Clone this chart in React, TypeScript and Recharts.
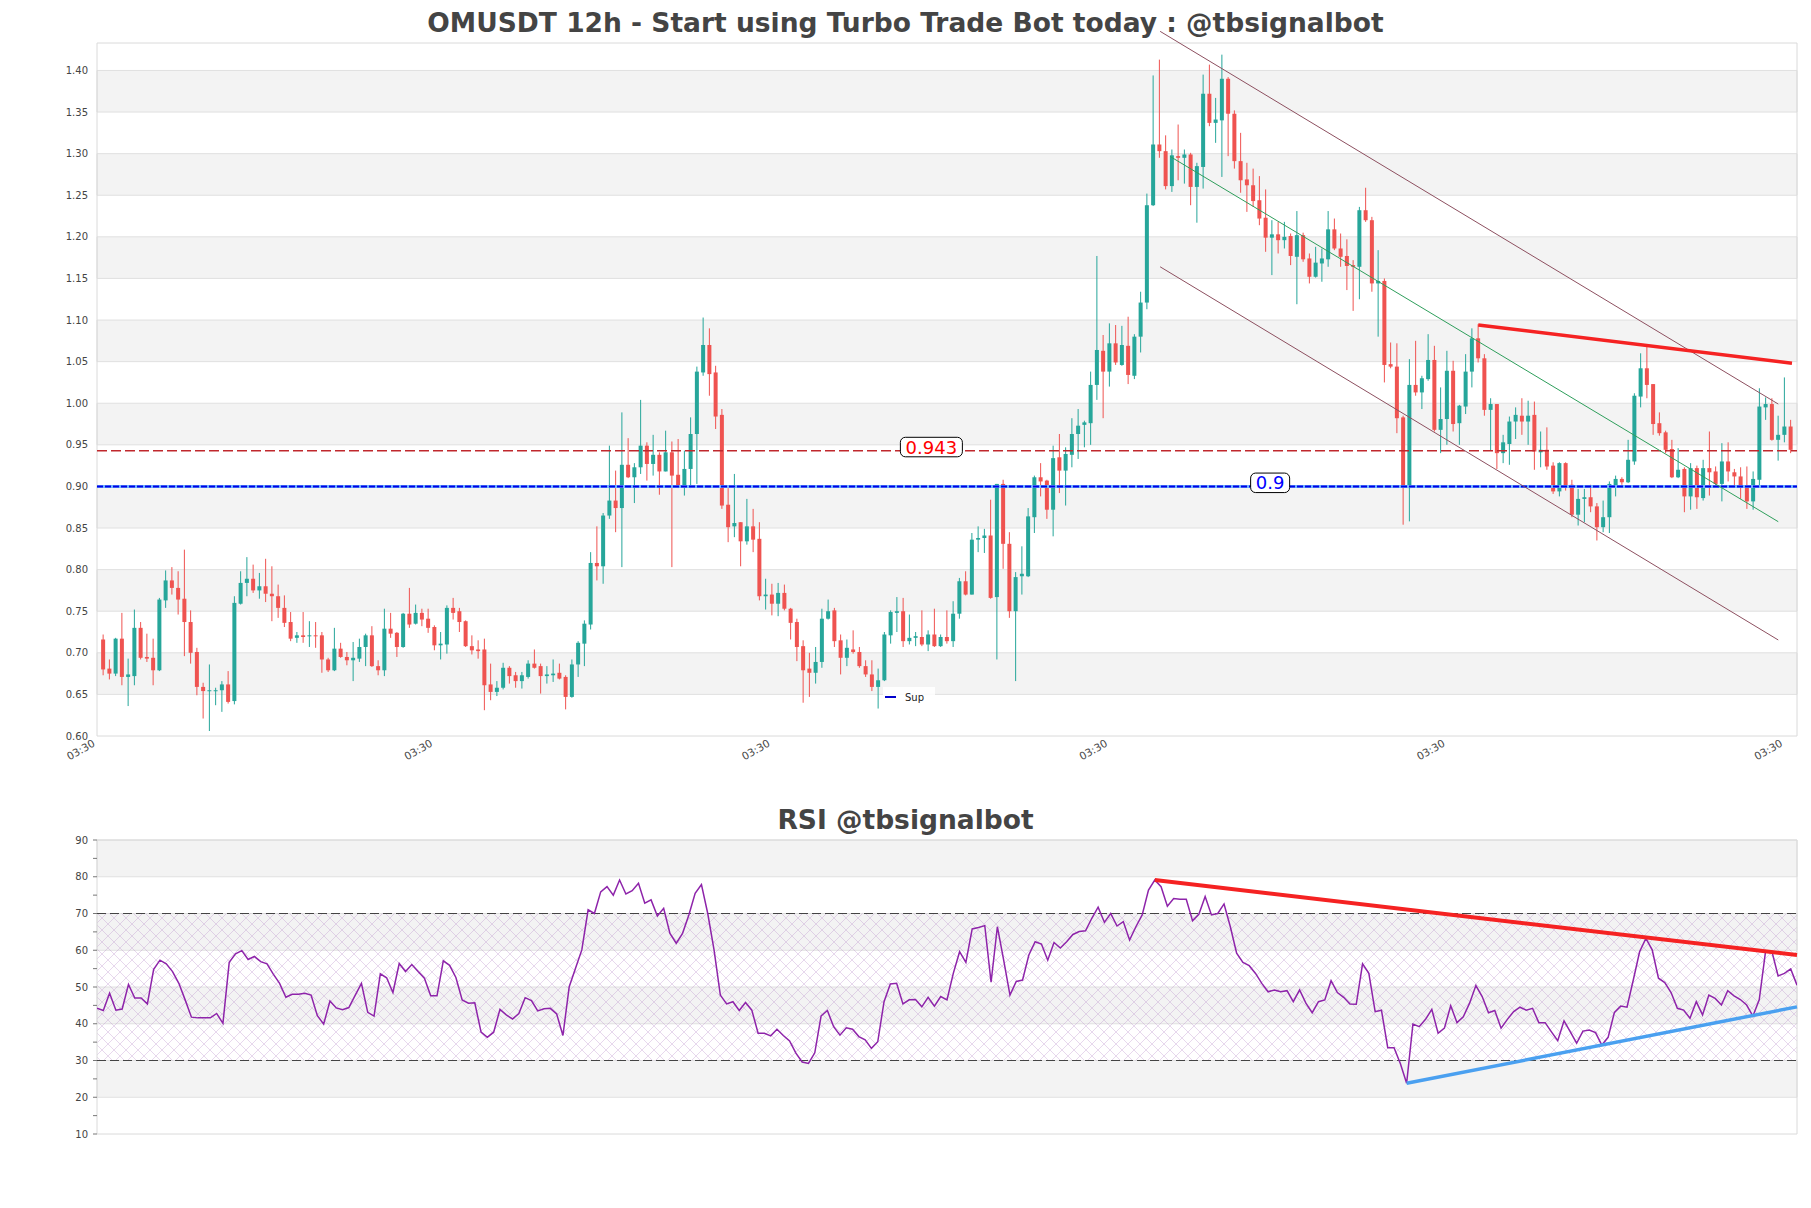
import React from 'react';
import {
  ComposedChart,
  Bar,
  Line,
  XAxis,
  YAxis,
  ReferenceArea,
  ReferenceLine,
  ReferenceDot,
} from 'recharts';

// ---------------- DATA ----------------
const opens = [
  0.716, 0.681, 0.675, 0.717, 0.671, 0.672, 0.730, 0.695, 0.694, 0.679,
  0.763, 0.787, 0.778, 0.765, 0.737, 0.701, 0.659, 0.654, 0.654, 0.655,
  0.662, 0.642, 0.759, 0.784, 0.789, 0.775, 0.780, 0.771, 0.768, 0.754,
  0.737, 0.718, 0.721, 0.720, 0.721, 0.721, 0.692, 0.679, 0.705, 0.695,
  0.691, 0.693, 0.707, 0.721, 0.684, 0.679, 0.729, 0.724, 0.707, 0.747,
  0.735, 0.748, 0.741, 0.731, 0.709, 0.710, 0.754, 0.750, 0.738, 0.708,
  0.704, 0.704, 0.662, 0.653, 0.658, 0.682, 0.673, 0.666, 0.671, 0.687,
  0.684, 0.672, 0.673, 0.676, 0.671, 0.647, 0.686, 0.711, 0.734, 0.808,
  0.804, 0.865, 0.883, 0.874, 0.926, 0.911, 0.923, 0.949, 0.927, 0.938,
  0.918, 0.941, 0.914, 0.900, 0.921, 0.963, 1.037, 1.070, 1.037, 0.986,
  0.878, 0.852, 0.857, 0.834, 0.852, 0.837, 0.768, 0.770, 0.759, 0.772,
  0.753, 0.737, 0.708, 0.681, 0.676, 0.689, 0.741, 0.751, 0.715, 0.694,
  0.704, 0.701, 0.684, 0.674, 0.659, 0.667, 0.721, 0.748, 0.750, 0.714,
  0.718, 0.719, 0.710, 0.722, 0.708, 0.719, 0.714, 0.747, 0.786, 0.770,
  0.836, 0.838, 0.841, 0.767, 0.903, 0.831, 0.750, 0.792, 0.792, 0.863,
  0.911, 0.907, 0.872, 0.935, 0.919, 0.938, 0.963, 0.974, 0.976, 1.022,
  1.063, 1.038, 1.072, 1.046, 1.069, 1.033, 1.080, 1.121, 1.238, 1.311,
  1.303, 1.261, 1.297, 1.295, 1.299, 1.260, 1.284, 1.372, 1.337, 1.340,
  1.390, 1.348, 1.291, 1.269, 1.262, 1.244, 1.223, 1.199, 1.203, 1.196,
  1.201, 1.176, 1.202, 1.174, 1.152, 1.168, 1.173, 1.209, 1.186, 1.177,
  1.166, 1.164, 1.232, 1.220, 1.144, 1.147, 1.047, 1.044, 0.983, 0.898,
  1.022, 1.013, 1.029, 1.052, 0.968, 0.981, 1.039, 0.976, 0.996, 1.038,
  1.078, 1.054, 0.992, 0.999, 0.940, 0.951, 0.978, 0.985, 0.978, 0.986,
  0.941, 0.944, 0.925, 0.894, 0.928, 0.902, 0.866, 0.885, 0.887, 0.876,
  0.851, 0.863, 0.901, 0.909, 0.905, 0.930, 1.008, 1.042, 1.023, 0.976,
  0.965, 0.945, 0.911, 0.921, 0.888, 0.922, 0.886, 0.922, 0.918, 0.903,
  0.930, 0.917, 0.912, 0.900, 0.882, 0.908, 0.995, 0.999, 0.956, 0.962,
  0.972,
];
const highs = [
  0.722, 0.692, 0.718, 0.748, 0.693, 0.752, 0.737, 0.723, 0.717, 0.766,
  0.799, 0.803, 0.798, 0.824, 0.751, 0.706, 0.664, 0.686, 0.658, 0.666,
  0.678, 0.768, 0.798, 0.815, 0.806, 0.796, 0.813, 0.804, 0.782, 0.769,
  0.749, 0.725, 0.749, 0.738, 0.737, 0.725, 0.694, 0.730, 0.712, 0.701,
  0.713, 0.717, 0.723, 0.732, 0.691, 0.753, 0.748, 0.725, 0.748, 0.778,
  0.758, 0.753, 0.753, 0.733, 0.725, 0.757, 0.766, 0.754, 0.739, 0.721,
  0.715, 0.717, 0.687, 0.666, 0.688, 0.684, 0.677, 0.677, 0.691, 0.704,
  0.687, 0.684, 0.692, 0.687, 0.673, 0.692, 0.714, 0.739, 0.821, 0.852,
  0.868, 0.949, 0.919, 0.989, 0.958, 0.928, 1.004, 0.953, 0.962, 0.941,
  0.967, 0.954, 0.957, 0.943, 0.983, 1.044, 1.103, 1.090, 1.045, 0.993,
  0.898, 0.915, 0.857, 0.885, 0.873, 0.857, 0.789, 0.783, 0.784, 0.782,
  0.754, 0.741, 0.715, 0.700, 0.707, 0.753, 0.764, 0.754, 0.722, 0.716,
  0.727, 0.707, 0.691, 0.691, 0.681, 0.725, 0.751, 0.767, 0.766, 0.746,
  0.725, 0.751, 0.727, 0.753, 0.722, 0.751, 0.762, 0.790, 0.798, 0.844,
  0.852, 0.849, 0.884, 0.903, 0.908, 0.845, 0.797, 0.828, 0.874, 0.913,
  0.928, 0.908, 0.949, 0.963, 0.947, 0.982, 0.993, 0.979, 1.038, 1.177,
  1.082, 1.096, 1.094, 1.093, 1.104, 1.083, 1.134, 1.252, 1.394, 1.413,
  1.322, 1.305, 1.335, 1.305, 1.301, 1.289, 1.395, 1.407, 1.367, 1.419,
  1.392, 1.352, 1.325, 1.289, 1.282, 1.273, 1.257, 1.220, 1.218, 1.218,
  1.204, 1.231, 1.205, 1.180, 1.188, 1.186, 1.231, 1.222, 1.204, 1.197,
  1.172, 1.236, 1.259, 1.224, 1.184, 1.150, 1.073, 1.072, 0.985, 1.053,
  1.075, 1.033, 1.083, 1.069, 1.019, 1.063, 1.051, 0.998, 1.059, 1.090,
  1.095, 1.059, 1.006, 0.999, 0.962, 0.984, 0.995, 1.006, 1.003, 1.002,
  0.966, 0.971, 0.929, 0.929, 0.929, 0.908, 0.897, 0.897, 0.902, 0.880,
  0.883, 0.906, 0.913, 0.911, 0.956, 1.012, 1.060, 1.069, 1.023, 0.989,
  0.967, 0.956, 0.946, 0.923, 0.928, 0.925, 0.932, 0.966, 0.924, 0.952,
  0.953, 0.921, 0.923, 0.924, 0.918, 1.018, 1.007, 1.006, 0.985, 1.031,
  0.980,
];
const lows = [
  0.673, 0.668, 0.672, 0.661, 0.636, 0.661, 0.692, 0.689, 0.661, 0.678,
  0.754, 0.770, 0.746, 0.696, 0.687, 0.649, 0.621, 0.606, 0.637, 0.629,
  0.639, 0.638, 0.758, 0.768, 0.772, 0.765, 0.761, 0.738, 0.742, 0.731,
  0.714, 0.712, 0.712, 0.707, 0.706, 0.676, 0.677, 0.678, 0.694, 0.685,
  0.666, 0.689, 0.684, 0.683, 0.673, 0.672, 0.718, 0.695, 0.706, 0.730,
  0.734, 0.732, 0.724, 0.703, 0.692, 0.699, 0.740, 0.725, 0.707, 0.698,
  0.693, 0.631, 0.643, 0.648, 0.656, 0.663, 0.658, 0.657, 0.669, 0.681,
  0.651, 0.663, 0.665, 0.668, 0.632, 0.646, 0.671, 0.684, 0.728, 0.787,
  0.783, 0.861, 0.845, 0.803, 0.910, 0.880, 0.915, 0.907, 0.913, 0.890,
  0.918, 0.803, 0.898, 0.889, 0.898, 0.903, 1.033, 1.009, 0.969, 0.873,
  0.833, 0.839, 0.804, 0.830, 0.821, 0.763, 0.752, 0.745, 0.744, 0.751,
  0.716, 0.690, 0.640, 0.647, 0.663, 0.682, 0.740, 0.707, 0.674, 0.684,
  0.699, 0.682, 0.671, 0.654, 0.633, 0.666, 0.711, 0.725, 0.707, 0.710,
  0.708, 0.708, 0.702, 0.707, 0.707, 0.711, 0.707, 0.741, 0.769, 0.770,
  0.821, 0.820, 0.765, 0.692, 0.801, 0.742, 0.666, 0.770, 0.791, 0.844,
  0.888, 0.861, 0.840, 0.892, 0.877, 0.923, 0.933, 0.947, 0.950, 1.004,
  0.982, 1.020, 1.046, 1.045, 1.023, 1.029, 1.061, 1.113, 1.237, 1.295,
  1.257, 1.254, 1.268, 1.264, 1.238, 1.217, 1.258, 1.333, 1.313, 1.272,
  1.297, 1.282, 1.253, 1.230, 1.236, 1.214, 1.182, 1.154, 1.180, 1.186,
  1.166, 1.119, 1.170, 1.144, 1.151, 1.146, 1.164, 1.184, 1.164, 1.136,
  1.111, 1.125, 1.218, 1.134, 1.080, 1.025, 1.042, 0.964, 0.854, 0.858,
  1.009, 0.993, 1.027, 0.966, 0.940, 0.950, 0.966, 0.950, 0.987, 1.019,
  1.049, 0.985, 0.943, 0.921, 0.928, 0.926, 0.957, 0.962, 0.950, 0.920,
  0.923, 0.920, 0.891, 0.888, 0.895, 0.863, 0.853, 0.857, 0.869, 0.835,
  0.845, 0.844, 0.888, 0.902, 0.904, 0.926, 0.995, 1.006, 0.962, 0.961,
  0.940, 0.910, 0.910, 0.869, 0.872, 0.873, 0.883, 0.889, 0.899, 0.882,
  0.906, 0.901, 0.885, 0.873, 0.872, 0.899, 0.980, 0.955, 0.931, 0.953,
  0.940,
];
const closes = [
  0.680, 0.675, 0.717, 0.671, 0.674, 0.730, 0.694, 0.693, 0.679, 0.764,
  0.787, 0.778, 0.764, 0.737, 0.700, 0.659, 0.654, 0.655, 0.655, 0.662,
  0.641, 0.760, 0.784, 0.789, 0.775, 0.780, 0.771, 0.768, 0.754, 0.736,
  0.717, 0.721, 0.719, 0.721, 0.720, 0.692, 0.679, 0.705, 0.695, 0.691,
  0.694, 0.707, 0.721, 0.684, 0.679, 0.729, 0.723, 0.707, 0.747, 0.734,
  0.748, 0.740, 0.730, 0.709, 0.711, 0.754, 0.748, 0.737, 0.708, 0.703,
  0.702, 0.661, 0.653, 0.658, 0.682, 0.672, 0.666, 0.673, 0.687, 0.682,
  0.672, 0.674, 0.675, 0.669, 0.647, 0.686, 0.712, 0.735, 0.808, 0.804,
  0.865, 0.883, 0.874, 0.926, 0.911, 0.923, 0.949, 0.927, 0.938, 0.918,
  0.941, 0.913, 0.900, 0.921, 0.963, 1.038, 1.070, 1.035, 0.984, 0.877,
  0.851, 0.856, 0.834, 0.852, 0.836, 0.768, 0.770, 0.759, 0.772, 0.753,
  0.736, 0.707, 0.679, 0.676, 0.689, 0.741, 0.750, 0.714, 0.694, 0.706,
  0.701, 0.684, 0.674, 0.659, 0.667, 0.722, 0.749, 0.750, 0.714, 0.718,
  0.720, 0.710, 0.722, 0.708, 0.719, 0.714, 0.747, 0.786, 0.770, 0.836,
  0.838, 0.841, 0.766, 0.903, 0.831, 0.750, 0.791, 0.795, 0.864, 0.911,
  0.906, 0.872, 0.934, 0.919, 0.939, 0.963, 0.973, 0.977, 1.022, 1.064,
  1.038, 1.072, 1.049, 1.070, 1.034, 1.080, 1.121, 1.238, 1.311, 1.303,
  1.261, 1.298, 1.295, 1.299, 1.260, 1.285, 1.372, 1.337, 1.341, 1.390,
  1.348, 1.291, 1.268, 1.262, 1.243, 1.222, 1.199, 1.203, 1.196, 1.200,
  1.177, 1.202, 1.173, 1.152, 1.169, 1.174, 1.209, 1.186, 1.176, 1.165,
  1.164, 1.232, 1.220, 1.144, 1.147, 1.046, 1.044, 0.982, 0.900, 1.022,
  1.013, 1.030, 1.052, 0.968, 0.981, 1.039, 0.975, 0.997, 1.038, 1.078,
  1.054, 0.992, 0.999, 0.940, 0.953, 0.978, 0.986, 0.978, 0.985, 0.942,
  0.944, 0.924, 0.894, 0.928, 0.901, 0.866, 0.885, 0.887, 0.876, 0.851,
  0.863, 0.903, 0.909, 0.905, 0.932, 1.009, 1.042, 1.022, 0.975, 0.964,
  0.944, 0.911, 0.920, 0.888, 0.922, 0.887, 0.922, 0.917, 0.903, 0.930,
  0.918, 0.912, 0.900, 0.882, 0.909, 0.996, 0.999, 0.956, 0.962, 0.972,
  0.944,
];

const rsiValues = [
  44.2, 43.6, 48.3, 43.7, 44.0, 50.7, 47.0, 47.0, 45.4, 54.8,
  57.3, 56.3, 54.2, 51.0, 46.5, 41.8, 41.6, 41.6, 41.6, 42.8,
  40.1, 56.7, 59.0, 59.9, 57.5, 58.3, 56.9, 56.3, 53.5, 51.0,
  47.2, 48.0, 48.0, 48.3, 47.8, 42.2, 39.9, 46.2, 44.3, 43.8,
  44.4, 47.7, 51.0, 43.1, 42.1, 53.6, 52.5, 48.5, 56.4, 54.2,
  56.1, 54.2, 52.4, 47.6, 47.6, 57.1, 55.9, 52.6, 46.5, 45.6,
  45.7, 37.7, 36.3, 37.7, 43.9, 42.4, 41.3, 42.8, 47.1, 46.3,
  43.5, 44.1, 44.2, 42.7, 36.8, 50.1, 55.1, 60.1, 71.0, 70.0,
  75.9, 77.3, 75.0, 79.1, 75.3, 76.2, 78.2, 72.8, 73.7, 69.3,
  71.4, 64.6, 61.9, 64.6, 69.6, 75.5, 77.9, 70.0, 60.1, 47.8,
  45.4, 46.0, 43.6, 45.8, 43.7, 37.4, 37.4, 36.7, 38.5, 36.8,
  35.3, 32.0, 29.6, 29.2, 32.1, 42.1, 43.6, 39.2, 36.9, 38.9,
  38.5, 36.5, 35.6, 33.3, 35.1, 46.0, 50.8, 51.0, 45.4, 46.5,
  46.6, 44.6, 47.2, 44.8, 47.4, 46.5, 53.7, 59.6, 56.7, 65.8,
  66.2, 66.7, 51.3, 66.4, 57.3, 47.8, 51.5, 51.9, 58.7, 62.3,
  61.7, 57.3, 62.1, 60.6, 62.3, 64.3, 65.1, 65.3, 68.7, 71.7,
  67.6, 70.0, 66.6, 67.8, 62.8, 66.4, 69.6, 76.4, 79.1, 77.3,
  72.0, 74.1, 73.9, 73.9, 68.0, 69.8, 74.6, 69.6, 70.0, 72.6,
  66.4, 59.2, 56.7, 55.8, 53.7, 51.0, 48.7, 49.2, 48.7, 49.0,
  46.0, 49.2, 45.6, 43.0, 46.0, 46.5, 51.7, 48.5, 47.2, 45.4,
  45.3, 56.3, 53.7, 43.3, 43.7, 33.5, 33.5, 29.2, 23.8, 39.9,
  39.2, 41.2, 43.9, 37.4, 38.8, 44.9, 40.3, 41.9, 45.6, 50.4,
  47.4, 43.0, 43.6, 38.8, 41.2, 43.3, 44.5, 43.7, 44.2, 40.3,
  40.3, 37.8, 35.4, 40.8, 37.8, 34.7, 38.0, 38.3, 37.6, 34.2,
  36.3, 43.1, 44.8, 44.5, 51.9, 59.6, 63.2, 60.1, 52.4, 51.2,
  48.5, 44.2, 43.7, 41.5, 46.0, 42.4, 47.8, 46.9, 45.1, 49.0,
  47.6, 46.6, 45.1, 42.1, 46.5, 59.6, 59.8, 53.0, 53.7, 54.9,
  50.5,
];

const priceTicks = [0.6, 0.65, 0.7, 0.75, 0.8, 0.85, 0.9, 0.95, 1.0, 1.05, 1.1, 1.15, 1.2, 1.25, 1.3, 1.35, 1.4];
const priceBands = [
  [0.65, 0.7], [0.75, 0.8], [0.85, 0.9], [0.95, 1.0],
  [1.05, 1.1], [1.15, 1.2], [1.25, 1.3], [1.35, 1.4],
];
const timeTicks = [-1, 53, 107, 161, 215, 269];
const timeTickLabel = '03:30';
const rsiTicks = [10, 15, 20, 25, 30, 35, 40, 45, 50, 55, 60, 65, 70, 75, 80, 85, 90];
const rsiBands = [[80, 90], [60, 70], [40, 50], [20, 30]];

const resistanceLevel = 0.943;
const supportLevel = 0.9;
const resistanceLabelAt = 132.5;
const supportLabelAt = 186.7;

const channelUpper = [{ x: 169.1, y: 1.447 }, { x: 268, y: 0.999 }];
const channelLower = [{ x: 169.1, y: 1.164 }, { x: 268, y: 0.7154 }];
const channelMid = [{ x: 170.7, y: 1.2966 }, { x: 268, y: 0.8576 }];
const priceDownTrend = [{ x: 220, y: 1.094 }, { x: 270.2, y: 1.048 }];
const rsiDownTrend = [{ x: 168, y: 79.1 }, { x: 270, y: 58.7 }];
const rsiUpTrend = [{ x: 208, y: 23.8 }, { x: 270, y: 44.6 }];

const candles = opens.map((o, i) => ({
  i,
  open: o,
  high: highs[i],
  low: lows[i],
  close: closes[i],
  range: [lows[i], highs[i]],
}));
const rsiData = rsiValues.map((v, j) => ({ j, rsi: v }));

// ---------------- STYLE ----------------
const FONT = 'DejaVu Sans';
const UP = '#26a69a';
const DOWN = '#ef5350';
const BAND = '#f3f3f3';
const GRID = '#e0e0e0';

const Candle = (props: any) => {
  const { x, y, width, height, payload } = props;
  if (!payload) return null;
  const { open, close, high, low } = payload;
  const top = Math.min(y, y + height);
  const h = Math.abs(height);
  const span = high - low || 1e-9;
  const yOf = (v: number) => top + ((high - v) / span) * h;
  const color = close >= open ? UP : DOWN;
  const cx = x + width / 2;
  const b1 = yOf(Math.max(open, close));
  const b2 = yOf(Math.min(open, close));
  return (
    <g>
      <line x1={cx} x2={cx} y1={top} y2={top + h} stroke={color} strokeWidth={1} />
      <rect x={x} y={b1} width={width} height={Math.max(b2 - b1, 1)} fill={color} />
    </g>
  );
};

const PriceTick = (props: any) => {
  const { x, y, payload } = props;
  return (
    <text x={x - 9} y={y} dy="0.355em" textAnchor="end" fontSize={10} fill="#444" fontFamily={FONT}>
      {Number(payload.value).toFixed(2)}
    </text>
  );
};

const TimeTick = (props: any) => {
  const { x, y } = props;
  return (
    <text
      transform={`translate(${x - 5},${y + 3}) rotate(-30)`}
      textAnchor="end"
      dy="0.71em"
      fontSize={10.5}
      fill="#444"
      fontFamily={FONT}
    >
      {timeTickLabel}
    </text>
  );
};

const RsiTick = (props: any) => {
  const { x, y, payload } = props;
  const major = payload.value % 10 === 0;
  return (
    <g>
      <line x1={x - 4} x2={x} y1={y} y2={y} stroke="#777" strokeWidth={1} />
      {major && (
        <text x={x - 9} y={y} dy="0.355em" textAnchor="end" fontSize={10} fill="#444" fontFamily={FONT}>
          {payload.value}
        </text>
      )}
    </g>
  );
};

const LevelLabel = (props: any) => {
  const { cx, cy, text, color, w } = props;
  const h = 19.5;
  const yc = cy - 3.6;
  return (
    <g>
      <rect x={cx - w / 2} y={yc - h / 2} width={w} height={h} rx={5} ry={5} fill="#fff" stroke="#000" strokeWidth={1} />
      <text x={cx} y={yc} dy="0.36em" textAnchor="middle" fontSize={18} fill={color} fontFamily={FONT}>
        {text}
      </text>
    </g>
  );
};

export default function App() {
  return (
    <div style={{ position: 'absolute', left: 0, top: 0, width: 1811, height: 1208, background: '#fff', fontFamily: FONT }}>
      <svg width={0} height={0} style={{ position: 'absolute' }}>
        <defs>
          <pattern id="rsiHatch" patternUnits="userSpaceOnUse" width="12" height="12">
            <path d="M0,0 L12,12 M12,0 L0,12" stroke="#b07cc2" strokeWidth="0.6" strokeOpacity="0.5" fill="none" />
          </pattern>
        </defs>
      </svg>

      <div style={{ position: 'absolute', left: 0, top: 0 }}>
        <ComposedChart width={1811} height={780} data={candles} margin={{ top: 43, right: 14, bottom: 4, left: 37 }}>
          <XAxis
            dataKey="i"
            type="number"
            domain={[-1, 271]}
            ticks={timeTicks}
            interval={0}
            allowDataOverflow
            axisLine={false}
            tickLine={false}
            tickSize={0}
            tickMargin={0}
            height={40}
            tick={TimeTick}
          />
          <YAxis
            type="number"
            domain={[0.6, 1.433]}
            ticks={priceTicks}
            interval={0}
            allowDataOverflow
            width={60}
            axisLine={false}
            tickLine={false}
            tickSize={0}
            tickMargin={0}
            tick={PriceTick}
          />
          {priceBands.map(([a, b]) => (
            <ReferenceArea key={`pb${a}`} y1={a} y2={b} fill={BAND} fillOpacity={1} stroke={GRID} strokeWidth={1} />
          ))}
          <ReferenceArea y1={0.6} y2={1.433} fill="none" stroke="#dadada" strokeWidth={1} />
          <Bar dataKey="range" barSize={4} shape={Candle} isAnimationActive={false} />
          <ReferenceLine y={resistanceLevel} stroke="#c0282d" strokeWidth={1.5} strokeDasharray="10 4" />
          <ReferenceLine y={supportLevel} stroke="#6fb4ff" strokeWidth={3} />
          <ReferenceLine y={supportLevel} stroke="#0000e6" strokeWidth={2} strokeDasharray="6 2" />
          <ReferenceLine segment={channelUpper} stroke="#8d5060" strokeWidth={1} ifOverflow="visible" />
          <ReferenceLine segment={channelLower} stroke="#8d5060" strokeWidth={1} ifOverflow="visible" />
          <ReferenceLine segment={channelMid} stroke="#2e9e5b" strokeWidth={1} ifOverflow="visible" />
          <ReferenceLine segment={priceDownTrend} stroke="#f52222" strokeWidth={3.5} ifOverflow="visible" />
          <ReferenceDot
            x={resistanceLabelAt}
            y={resistanceLevel}
            r={0}
            shape={(p: any) => <LevelLabel {...p} text="0.943" color="#ff0000" w={62} />}
          />
          <ReferenceDot
            x={supportLabelAt}
            y={supportLevel}
            r={0}
            shape={(p: any) => <LevelLabel {...p} text="0.9" color="#0000ff" w={39} />}
          />
        </ComposedChart>
      </div>

      <div style={{ position: 'absolute', left: 0, top: 780 }}>
        <ComposedChart width={1811} height={400} data={rsiData} margin={{ top: 60, right: 14, bottom: 46, left: 37 }}>
          <XAxis dataKey="j" type="number" domain={[0, 270]} allowDataOverflow hide />
          <YAxis
            type="number"
            domain={[10, 90]}
            ticks={rsiTicks}
            interval={0}
            allowDataOverflow
            width={60}
            axisLine={false}
            tickLine={false}
            tickSize={0}
            tickMargin={0}
            tick={RsiTick}
          />
          {rsiBands.map(([a, b]) => (
            <ReferenceArea key={`rb${a}`} y1={a} y2={b} fill={BAND} fillOpacity={1} stroke={GRID} strokeWidth={1} />
          ))}
          <ReferenceArea y1={30} y2={70} fill="url(#rsiHatch)" fillOpacity={1} stroke="none" />
          <ReferenceArea y1={10} y2={90} fill="none" stroke="#dadada" strokeWidth={1} />
          <ReferenceLine y={70} stroke="#444" strokeWidth={1.2} strokeDasharray="9 4" />
          <ReferenceLine y={30} stroke="#444" strokeWidth={1.2} strokeDasharray="9 4" />
          <Line dataKey="rsi" type="linear" stroke="#8e24aa" strokeWidth={1.5} dot={false} isAnimationActive={false} />
          <ReferenceLine segment={rsiDownTrend} stroke="#f52222" strokeWidth={4} ifOverflow="visible" />
          <ReferenceLine segment={rsiUpTrend} stroke="#4aa0f0" strokeWidth={3.5} ifOverflow="visible" />
        </ComposedChart>
      </div>

      <svg width={1811} height={1208} style={{ position: 'absolute', left: 0, top: 0, pointerEvents: 'none' }}>
        <text x={905.5} y={32.3} textAnchor="middle" fontSize={26.5} fontWeight="bold" fill="#444" fontFamily={FONT}>
          OMUSDT 12h - Start using Turbo Trade Bot today : @tbsignalbot
        </text>
        <text x={905.5} y={829.3} textAnchor="middle" fontSize={26.5} fontWeight="bold" fill="#444" fontFamily={FONT}>
          RSI @tbsignalbot
        </text>
        <g>
          <rect x={883} y={687} width={52} height={19} fill="#fff" fillOpacity={0.85} />
          <line x1={885} x2={896} y1={697} y2={697} stroke="#0000cc" strokeWidth={2} />
          <text x={905} y={697} dy="0.36em" fontSize={10} fill="#222" fontFamily={FONT}>
            Sup
          </text>
        </g>
      </svg>
    </div>
  );
}
